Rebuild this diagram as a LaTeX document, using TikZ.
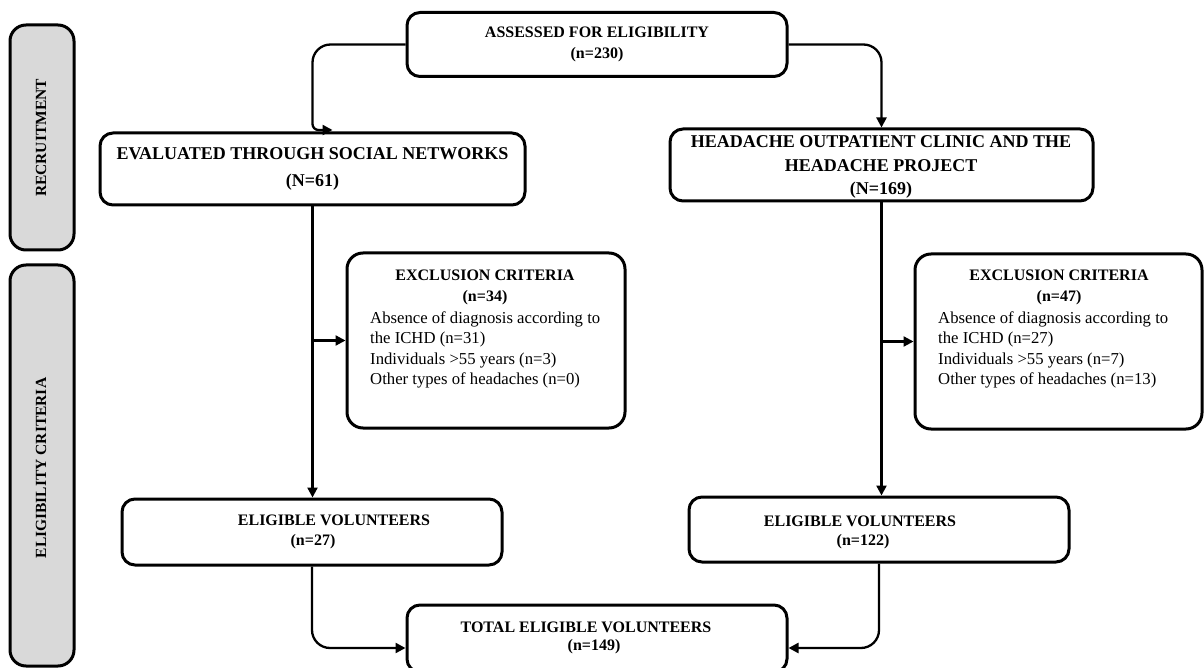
\documentclass[tikz,border=0pt]{standalone}
\usepackage{fontspec}
\setmainfont{Liberation Serif}
\usetikzlibrary{arrows.meta}
\definecolor{sidegray}{HTML}{D9D9D9}
\begin{document}
\begin{tikzpicture}[x=1pt,y=-1pt,
  box/.style={draw, line width=3pt, rounded corners=13pt, fill=white, inner sep=0pt, align=center},
  sidebox/.style={box, fill=sidegray, rounded corners=16pt},
  conn/.style={line width=2.3pt, -{Triangle[length=10pt,width=10pt]}},
  ttl/.style={inner sep=0pt, align=center, font=\fontsize{16}{20.5}\selectfont\bfseries},
  lst/.style={inner sep=0pt, align=left, anchor=west, font=\fontsize{16.7}{20.3}\selectfont},
  sidettl/.style={inner sep=0pt, rotate=90, font=\fontsize{15.5}{18}\selectfont\bfseries}
]
\useasboundingbox[fill=white] (0,0) rectangle (1204,668);

% side bars
\node[sidebox, minimum width=64pt, minimum height=225pt] (rec) at (42,137.5) {};
\node[sidettl] (recT) at (41,138) {RECRUITMENT};
\node[sidebox, minimum width=64pt, minimum height=401pt] (elig) at (42,465.5) {};
\node[sidettl] (eligT) at (41,468) {ELIGIBILITY CRITERIA};

% main boxes
\node[box, minimum width=380pt, minimum height=64pt, font=\fontsize{16}{21}\selectfont\bfseries] (ass) at (597,44.5) {ASSESSED FOR ELIGIBILITY\\(n=230)};
\node[box, minimum width=425pt, minimum height=72pt, font=\fontsize{18}{27}\selectfont\bfseries] (eval) at (312.5,169) {EVALUATED THROUGH SOCIAL NETWORKS\\(N=61)};
\node[box, minimum width=423pt, minimum height=72pt] (head) at (881.5,165) {};
\node[inner sep=0pt, align=center, font=\fontsize{18}{23.5}\selectfont\bfseries] (headT) at (881,167) {HEADACHE OUTPATIENT CLINIC AND THE\\HEADACHE PROJECT\\(N=169)};

\node[box, rounded corners=16pt, minimum width=278pt, minimum height=175pt] (ex1) at (486,340.5) {};
\node[ttl] (ex1T) at (485,287.5) {EXCLUSION CRITERIA\\(n=34)};
\node[lst] (ex1L) at (370,350) {Absence of diagnosis according to\\the ICHD (n=31)\\Individuals >55 years (n=3)\\Other types of headaches (n=0)};

\node[box, rounded corners=16pt, minimum width=287pt, minimum height=175pt] (ex2) at (1058.5,341.5) {};
\node[ttl] (ex2T) at (1059,287.5) {EXCLUSION CRITERIA\\(n=47)};
\node[lst] (ex2L) at (938,350) {Absence of diagnosis according to\\the ICHD (n=27)\\Individuals >55 years (n=7)\\Other types of headaches (n=13)};

\node[box, minimum width=380pt, minimum height=66pt] (el1) at (312,532) {};
\node[ttl] (el1T) at (334,520) {ELIGIBLE VOLUNTEERS};
\node[ttl] (el1N) at (313,542) {(n=27)};

\node[box, minimum width=380pt, minimum height=65pt] (el2) at (879,529.5) {};
\node[ttl] (el2T) at (860,521) {ELIGIBLE VOLUNTEERS};
\node[ttl] (el2N) at (863,542) {(n=122)};

\node[box, minimum width=380pt, minimum height=67pt] (tot) at (597,638.5) {};
\node[ttl] (totT) at (586,627) {TOTAL ELIGIBLE VOLUNTEERS};
\node[ttl] (totN) at (594,647) {(n=149)};

% connectors
\coordinate (evin) at ([xshift=20pt,yshift=1.5pt]eval.north);
\draw[conn] (ass.west) [rounded corners=18pt] -| ([yshift=40pt]evin -| eval.north) [rounded corners=6pt] |- (evin);
\draw[conn, rounded corners=18pt] (ass.east) -| (head.north);

\draw[conn] (eval.south) -- (eval.south |- el1.north);
\draw[conn] (eval.south |- ex1.west) -- (ex1.west);

\draw[conn] (head.south) -- (head.south |- el2.north);
\draw[conn] (head.south |- ex2.west) -- (ex2.west);

\draw[conn, rounded corners=18pt] (el1.south) |- ([yshift=-9.5pt]tot.west);
\draw[conn, rounded corners=18pt] (el2.south) |- ([yshift=-9.5pt]tot.east);
\end{tikzpicture}
\end{document}
